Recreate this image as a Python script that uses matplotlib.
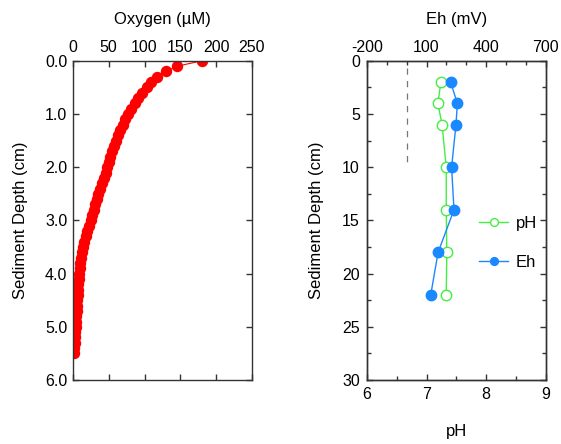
import matplotlib
matplotlib.use("Agg")
import matplotlib.pyplot as plt
from matplotlib.ticker import MultipleLocator, FormatStrFormatter

plt.rcParams['font.family'] = ['Liberation Sans', 'DejaVu Sans']
plt.rcParams['font.size'] = 11.5
plt.rcParams['axes.unicode_minus'] = False

# ---- Data ----
oxy_depth = [0.0, 0.1, 0.2, 0.3, 0.4, 0.5, 0.6, 0.7, 0.8, 0.9,
             1.0, 1.1, 1.2, 1.3, 1.4, 1.5, 1.6, 1.7, 1.8, 1.9,
             2.0, 2.1, 2.2, 2.3, 2.4, 2.5, 2.6, 2.7, 2.8, 2.9,
             3.0, 3.1, 3.2, 3.3, 3.4, 3.5, 3.6, 3.7, 3.8, 3.9,
             4.0, 4.1, 4.2, 4.3, 4.4, 4.5, 4.6, 4.7, 4.8, 4.9,
             5.0, 5.1, 5.2, 5.3, 5.4, 5.5]
oxygen = [180, 146, 130, 117, 109, 103, 97, 91.5, 86.5, 81.5,
          77, 73, 69.5, 66, 62.5, 59.5, 57, 54.5, 52, 50,
          48, 45.5, 43, 40.5, 38, 35.5, 33, 31, 29, 27,
          25, 22.5, 20, 18, 16, 14.2, 12.8, 11.5, 10.3, 9.3,
          8.5, 7.9, 7.4, 6.9, 6.5, 6, 5.6, 5.1, 4.7, 4.3,
          4, 3.5, 3, 2.5, 2, 1.5]

chem_depth = [2, 4, 6, 10, 14, 18, 22]
ph = [7.24, 7.19, 7.26, 7.33, 7.33, 7.34, 7.33]
eh = [221, 255, 248, 226, 238, 158, 121]

eh_ref = 0            # dashed reference line (mV)
eh_ref_depth = [0.7, 10.0]

oxy_ticks = [0, 50, 100, 150, 200, 250]
oxy_depth_ticks = [0, 1, 2, 3, 4, 5, 6]
ph_ticks = [6, 7, 8, 9]
eh_ticks = [-200, 100, 400, 700]
chem_depth_ticks = [0, 5, 10, 15, 20, 25, 30]

red = '#ff0000'
green = '#44ee44'
blue = '#1a88ff'
spine_col = '#333333'
label_fs = 12

fig = plt.figure(figsize=(5.61, 4.44), dpi=100)

def style(ax):
    for s in ax.spines.values():
        s.set_color(spine_col)
        s.set_linewidth(1.0)
    ax.tick_params(which='both', direction='in', color=spine_col, width=1.0)
    ax.tick_params(which='major', length=4)
    ax.tick_params(which='minor', length=3)

# ---- Left panel: oxygen ----
ax1 = fig.add_axes([0.130, 0.144, 0.319, 0.719])
ax1.plot(oxygen, oxy_depth, '-o', color=red, markersize=7.2, linewidth=0.8,
         markeredgecolor=red)
ax1.set_xlim(0, 250)
ax1.set_ylim(6, 0)
ax1.set_xticks(oxy_ticks)
ax1.set_yticks(oxy_depth_ticks)
ax1.yaxis.set_major_formatter(FormatStrFormatter('%.1f'))
style(ax1)
ax1.tick_params(axis='x', top=True, bottom=True, labeltop=True, labelbottom=False, pad=4)
ax1.tick_params(axis='y', left=True, right=True, pad=4)
ax1.xaxis.set_label_position('top')
ax1.set_xlabel('Oxygen (µM)', labelpad=12, fontsize=label_fs)
ax1.set_ylabel('Sediment Depth (cm)', labelpad=12, fontsize=label_fs)

# ---- Right panel: pH and Eh ----
ax2 = fig.add_axes([0.654, 0.144, 0.319, 0.719])
ax2.set_xlim(6, 9)
ax2.set_ylim(30, 0)
ax2.set_xticks(ph_ticks)
ax2.xaxis.set_minor_locator(MultipleLocator(0.5))
ax2.set_yticks(chem_depth_ticks)
ax2.yaxis.set_minor_locator(MultipleLocator(2.5))
style(ax2)
ax2.tick_params(axis='x', top=False, bottom=True, labelbottom=True, pad=5)
ax2.tick_params(axis='x', which='minor', top=False)
ax2.tick_params(axis='y', which='both', left=True, right=True)
ax2.tick_params(axis='y', pad=5)
ax2.set_xlabel('pH', labelpad=16, fontsize=label_fs)
ax2.set_ylabel('Sediment Depth (cm)', labelpad=13, fontsize=label_fs)

ax3 = ax2.twiny()
ax3.set_xlim(-200, 700)
ax3.set_xticks(eh_ticks)
ax3.xaxis.set_minor_locator(MultipleLocator(100))
style(ax3)
ax3.tick_params(axis='x', pad=4)
ax3.set_xlabel('Eh (mV)', labelpad=12, fontsize=label_fs)

ax3.plot([eh_ref, eh_ref], eh_ref_depth, linestyle=(0, (5, 5)), color='#777777',
         linewidth=0.9)
l_ph, = ax2.plot(ph, chem_depth, '-o', color=green, markerfacecolor='white',
                 markeredgecolor=green, markersize=7.5, linewidth=1.0,
                 markeredgewidth=1.0, label='pH')
l_eh, = ax3.plot(eh, chem_depth, '-o', color=blue, markerfacecolor=blue,
                 markeredgecolor=blue, markersize=7.5, linewidth=1.0, label='Eh')

ax3.legend(handles=[l_ph, l_eh], loc='upper left', bbox_to_anchor=(0.545, 0.56),
           frameon=False, handlelength=1.7, handletextpad=0.5, labelspacing=1.4,
           markerscale=0.75, fontsize=label_fs)

fig.savefig('out.png', dpi=100)
